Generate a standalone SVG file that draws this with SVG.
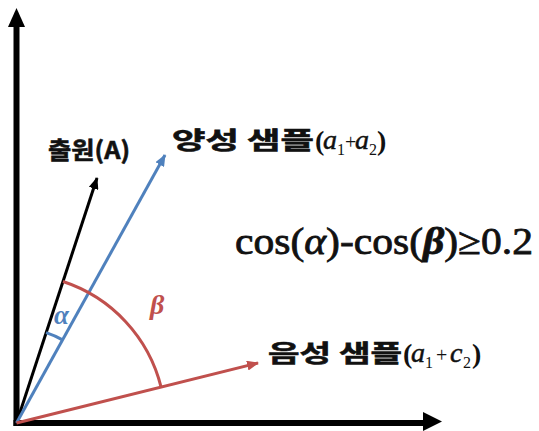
<svg xmlns="http://www.w3.org/2000/svg" width="539" height="431" viewBox="0 0 539 431">
<style>
.axis{stroke:#000;stroke-width:6;fill:none}
.vk{stroke:#000;stroke-width:3;fill:none}
.vb{stroke:#4F81BD;stroke-width:3;fill:none}
.vr{stroke:#C0504D;stroke-width:3;fill:none}
.kr{font-family:"Noto Sans CJK KR","Noto Sans",sans-serif;font-weight:bold;font-size:24px;fill:#111;stroke:#111;stroke-width:0.6}
.m{font-family:"Liberation Serif",serif;font-size:28px;fill:#111}
.mi{font-style:italic;stroke:#111;stroke-width:0.5}
.p{font-weight:bold}
.sub{font-size:16px}
.pl{font-size:20px}
.f{font-family:"Liberation Serif",serif;font-size:38px;fill:#111;stroke:#111;stroke-width:0.8}
.gl{font-family:"Liberation Serif",serif;font-weight:bold;font-style:italic}
</style>
<defs>
<marker id="ak" markerUnits="userSpaceOnUse" viewBox="0 0 12 10" refX="11" refY="5" markerWidth="12" markerHeight="10" orient="auto"><path d="M0,0 L12,5 L0,10 z" fill="#000"/></marker>
<marker id="ab" markerUnits="userSpaceOnUse" viewBox="0 0 12 10" refX="11" refY="5" markerWidth="12" markerHeight="10" orient="auto"><path d="M0,0 L12,5 L0,10 z" fill="#4F81BD"/></marker>
<marker id="ar" markerUnits="userSpaceOnUse" viewBox="0 0 12 10" refX="11" refY="5" markerWidth="12" markerHeight="10" orient="auto"><path d="M0,0 L12,5 L0,10 z" fill="#C0504D"/></marker>
</defs>
<g id="connectors">
<g id="axes">
<path class="axis" d="M16.5,426 V24"/>
<path d="M8,27 L16.5,8 L25,27 z" fill="#000"/>
<path class="axis" d="M13.5,423 H425"/>
<path d="M423,412 L442,421.5 L423,431 z" fill="#000"/>
</g>
<path class="vk" d="M16.5,423 L97,178" marker-end="url(#ak)"/>
<path class="vb" d="M16.5,423 L165,155" marker-end="url(#ab)"/>
<path class="vr" d="M16.5,423 L258,363" marker-end="url(#ar)"/>
<path class="vr" d="M63,281.5 A149,149 0 0 1 161.1,387.1"/>
<path class="vb" d="M46.1,332.7 A95,95 0 0 1 62.5,339.9"/>
</g>
<g id="label-alpha"><text class="gl" x="54" y="324" font-size="27" fill="#4F81BD">α</text></g>
<g id="label-beta"><text class="gl" x="150" y="314" font-size="28" fill="#C0504D">β</text></g>
<g id="node-A">
<text class="kr" x="48" y="159" textLength="82" lengthAdjust="spacingAndGlyphs">출원(A)</text>
</g>
<g id="node-pos">
<text class="kr" x="172" y="149" textLength="142" lengthAdjust="spacingAndGlyphs">양성 샘플</text>
<text class="m"><tspan class="p" x="315" y="150">(</tspan><tspan class="mi" x="323" y="149">a</tspan><tspan class="sub" x="337" y="155">1</tspan><tspan class="pl" x="345" y="149">+</tspan><tspan class="mi" x="355" y="149">a</tspan><tspan class="sub" x="369" y="155">2</tspan><tspan class="p" x="377" y="150">)</tspan></text>
</g>
<g id="node-neg">
<text class="kr" x="268" y="362" textLength="134" lengthAdjust="spacingAndGlyphs">음성 샘플</text>
<text class="m"><tspan class="p" x="403" y="363">(</tspan><tspan class="mi" x="411" y="362">a</tspan><tspan class="sub" x="425" y="368">1</tspan><tspan class="pl" x="436" y="362">+</tspan><tspan class="mi" x="450" y="362">c</tspan><tspan class="sub" x="463" y="368">2</tspan><tspan class="p" x="472" y="363">)</tspan></text>
</g>
<g id="formula">
<text class="f" x="235" y="254" textLength="298" lengthAdjust="spacingAndGlyphs">cos(<tspan font-style="italic">α</tspan>)-cos(<tspan font-style="italic" font-weight="bold">β</tspan>)≥0.2</text>
</g>
</svg>
